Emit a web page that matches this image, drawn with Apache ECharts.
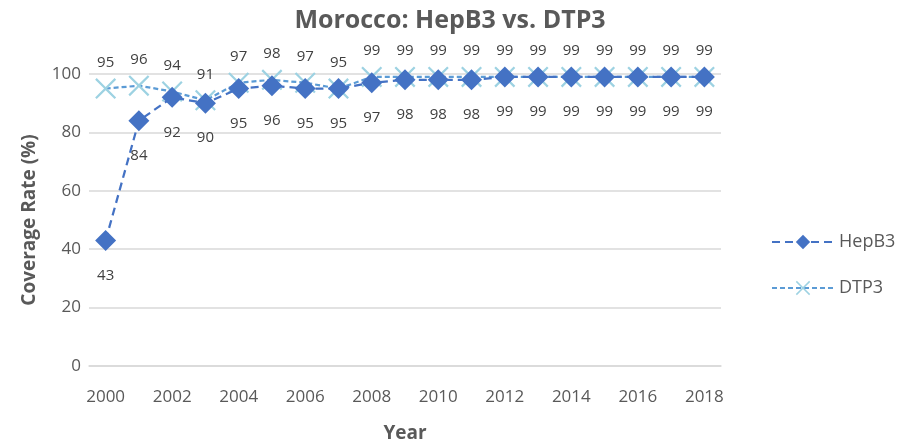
<!DOCTYPE html>
<html>
<head>
<meta charset="utf-8">
<script src="https://cdn.jsdelivr.net/npm/echarts@6/dist/echarts.min.js"></script>
<style>
  html, body { margin: 0; padding: 0; background: #fff; }
  #main { width: 908px; height: 444px; }
</style>
</head>
<body>
<div id="main"></div>
<script>
'use strict';
var years = ['2000', '2001', '2002', '2003', '2004', '2005', '2006', '2007', '2008', '2009',
    '2010', '2011', '2012', '2013', '2014', '2015', '2016', '2017', '2018'];
var hepB3 = [43, 84, 92, 90, 95, 96, 95, 95, 97, 98, 98, 98, 99, 99, 99, 99, 99, 99, 99];
var dtp3 = [95, 96, 94, 91, 97, 98, 97, 95, 99, 99, 99, 99, 99, 99, 99, 99, 99, 99, 99];

var fontName = '"Open Sans", "Liberation Sans", sans-serif';
var crossPath = 'path://M0,1.5L1.5,0L10,8.5L18.5,0L20,1.5L11.5,10L20,18.5L18.5,20L10,11.5L1.5,20L0,18.5L8.5,10Z';

var myChart = echarts.init(document.getElementById('main'));

var option = {
    animation: false,
    textStyle: { fontFamily: fontName },
    title: {
        text: 'Morocco: HepB3 vs. DTP3',
        left: 445,
        textAlign: 'center',
        top: 3,
        textStyle: { fontSize: 25, fontWeight: 'bold', color: '#595959', fontFamily: fontName }
    },
    grid: { left: 89, right: 187, top: 74, bottom: 78, outerBoundsMode: 'none', containLabel: false },
    legend: {
        orient: 'vertical',
        left: 766,
        top: 228,
        itemWidth: 62,
        itemHeight: 18,
        itemGap: 28,
        textStyle: { fontSize: 18, color: '#595959', fontFamily: fontName },
        data: ['HepB3', 'DTP3']
    },
    xAxis: {
        type: 'category',
        data: years,
        name: 'Year',
        nameLocation: 'middle',
        nameGap: 58,
        nameTextStyle: { fontSize: 19, fontWeight: 'bold', color: '#595959' },
        axisLine: { lineStyle: { color: '#d9d9d9', width: 1.5 } },
        axisTick: { show: false },
        axisLabel: { interval: 1, fontSize: 17, color: '#595959', margin: 23 }
    },
    yAxis: {
        type: 'value',
        min: 0,
        max: 100,
        interval: 20,
        name: 'Coverage Rate (%)',
        nameLocation: 'middle',
        nameGap: 50,
        nameTextStyle: { fontSize: 19, fontWeight: 'bold', color: '#595959' },
        axisLine: { show: false },
        axisTick: { show: false },
        axisLabel: { fontSize: 17, color: '#595959', margin: 8 },
        splitLine: { lineStyle: { color: '#d9d9d9', width: 1.5 } }
    },
    series: [{
        name: 'HepB3',
        type: 'line',
        data: hepB3,
        symbol: 'diamond',
        symbolSize: 21,
        z: 3,
        itemStyle: { color: '#4472C4' },
        lineStyle: { color: '#4472C4', width: 2.25, type: [8, 5] },
        label: {
            show: true,
            position: 'bottom',
            distance: 17,
            fontSize: 15,
            color: '#404040'
        }
    }, {
        name: 'DTP3',
        type: 'line',
        data: dtp3,
        symbol: crossPath,
        symbolSize: 21,
        z: 2,
        itemStyle: { color: '#9DD2E2' },
        lineStyle: { color: '#5B9BD5', width: 2.25, type: [5, 3] },
        label: {
            show: true,
            position: 'top',
            distance: 8,
            fontSize: 15,
            color: '#404040'
        }
    }]
};

myChart.setOption(option);
</script>
</body>
</html>
